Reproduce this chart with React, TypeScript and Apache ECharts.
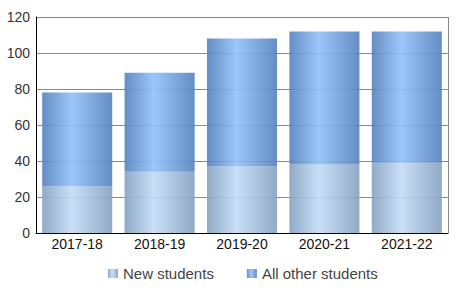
import React, { useEffect, useRef } from "react";
import * as echarts from "echarts";

const categories = ["2017-18", "2018-19", "2019-20", "2020-21", "2021-22"];
const newStudents = [26, 34, 37, 38, 39];
const otherStudents = [52, 55, 71, 74, 73];
const seriesNames = ["New students", "All other students"];

export default function App() {
  const ref = useRef<HTMLDivElement>(null);
  useEffect(() => {
    document.body.style.margin = "0";
    if (!ref.current) return;
    const chart = echarts.init(ref.current, undefined, { renderer: "svg" });
    const grad = (edge: string, mid: string) =>
      new echarts.graphic.LinearGradient(0, 0, 1, 0, [
        { offset: 0, color: edge },
        { offset: 0.42, color: mid },
        { offset: 1, color: edge },
      ]);
    chart.setOption({
      animation: false,
      textStyle: { fontFamily: "Liberation Sans, Arial, sans-serif" },
      grid: { left: 36, right: 8, top: 17, bottom: 72, containLabel: false, show: false },
      legend: {
        top: 261,
        left: 103,
        itemWidth: 10,
        itemHeight: 9,
        itemGap: 33,
        icon: "rect",
        textStyle: { fontSize: 15, color: "#444" },
        data: seriesNames,
      },
      xAxis: {
        type: "category",
        data: categories,
        axisLine: { lineStyle: { color: "#000", width: 1 } },
        axisTick: { show: false },
        axisLabel: { fontSize: 14, color: "#111", margin: 4 },
      },
      yAxis: {
        type: "value",
        min: 0,
        max: 120,
        interval: 20,
        axisLine: { show: true, lineStyle: { color: "#000", width: 1 } },
        axisTick: { show: false },
        axisLabel: { fontSize: 14, color: "#333", margin: 6 },
        splitLine: { show: true, lineStyle: { color: "#8a8a8a", width: 1 } },
      },
      series: [
        {
          name: seriesNames[0],
          type: "bar",
          stack: "total",
          data: newStudents,
          barCategoryGap: "15%",
          itemStyle: { color: grad("#84a0c0", "#c4dcf7"), opacity: 0.9 },
        },
        {
          name: seriesNames[1],
          type: "bar",
          stack: "total",
          data: otherStudents,
          barCategoryGap: "15%",
          itemStyle: { color: grad("#5481bd", "#92c0f9"), opacity: 0.9 },
        },
      ],
      graphic: [
        {
          type: "line",
          shape: { x1: 448.5, y1: 17, x2: 448.5, y2: 233 },
          style: { stroke: "#8a8a8a", lineWidth: 1 },
          silent: true,
        },
      ],
    });
    return () => chart.dispose();
  }, []);
  return <div ref={ref} style={{ width: 456, height: 305 }} />;
}
